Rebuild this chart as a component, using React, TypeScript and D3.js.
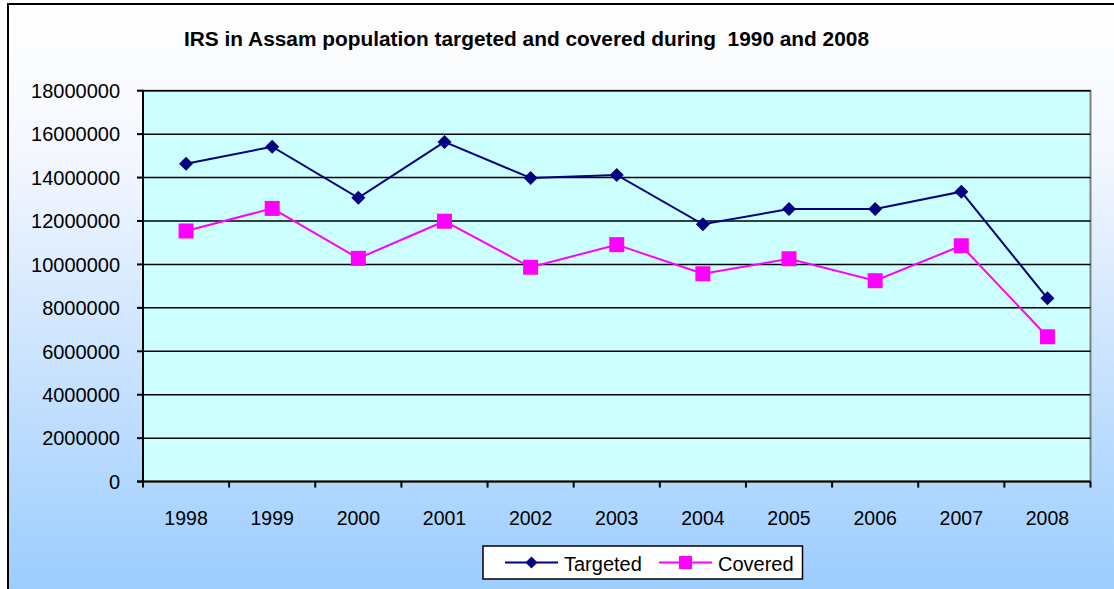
import React from 'react';
import * as d3 from 'd3';

const years = ['1998', '1999', '2000', '2001', '2002', '2003', '2004', '2005', '2006', '2007', '2008'];
const targeted = [14640000, 15420000, 13070000, 15640000, 13980000, 14120000, 11850000, 12550000, 12550000, 13350000, 8440000];
const covered = [11540000, 12580000, 10280000, 11990000, 9870000, 10910000, 9570000, 10260000, 9250000, 10860000, 6670000];
const yTicks = [0, 2000000, 4000000, 6000000, 8000000, 10000000, 12000000, 14000000, 16000000, 18000000];
const title = 'IRS in Assam population targeted and covered during  1990 and 2008';

const W = 1114, H = 589;
const plot = {left: 143, right: 1090.5, top: 90.7, bottom: 481.6};
const font = '"Liberation Sans", Arial, sans-serif';
const navy = '#000080';
const magenta = '#ff00ff';

const diamond = (cx: number, cy: number, r: number) =>
    `M${cx},${cy - r}L${cx + r},${cy}L${cx},${cy + r}L${cx - r},${cy}Z`;

const App = () => {
    const x = d3.scaleBand().domain(years).range([plot.left, plot.right]);
    const y = d3.scaleLinear().domain([0, 18000000]).range([plot.bottom, plot.top]);
    const cx = (d: string) => (x(d) as number) + x.bandwidth() / 2;

    const line = d3.line<number>()
        .x((_, i) => cx(years[i]))
        .y((d) => y(d));

    const boundaries = years.map((d) => x(d) as number).concat([plot.right]);

    return (
        <svg width={W} height={H} style={{position: 'absolute', left: 0, top: 0}}>
            <defs>
                <linearGradient id="bg" x1="0" y1="0" x2="0" y2="1">
                    <stop offset="0" stopColor="#ffffff"/>
                    <stop offset="0.25" stopColor="#f4f7fe"/>
                    <stop offset="1" stopColor="#99ccff"/>
                </linearGradient>
            </defs>
            <rect x={8} y={4} width={W + 10} height={H + 10} fill="url(#bg)" stroke="#000" strokeWidth={2}/>

            <text x={184} y={46} fontFamily={font} fontWeight="bold" fontSize={19.5}
                  textLength={685} lengthAdjust="spacingAndGlyphs"
                  style={{whiteSpace: 'pre'}} fill="#000">{title}</text>

            <rect x={plot.left} y={plot.top} width={plot.right - plot.left} height={plot.bottom - plot.top}
                  fill="#ccffff" stroke="#808080" strokeWidth={2}/>

            {yTicks.slice(1).map((t) => (
                <line key={t} x1={plot.left} x2={plot.right} y1={y(t)} y2={y(t)} stroke="#000" strokeWidth={1.5}/>
            ))}

            {/* y axis */}
            <line x1={plot.left} x2={plot.left} y1={plot.top} y2={plot.bottom} stroke="#000" strokeWidth={2}/>
            {yTicks.map((t) => (
                <g key={t}>
                    <line x1={plot.left - 6} x2={plot.left} y1={y(t)} y2={y(t)} stroke="#000" strokeWidth={2}/>
                    <text x={120} y={y(t)} dy="0.36em" textAnchor="end" fontFamily={font} fontSize={20}
                          fill="#000">{t}</text>
                </g>
            ))}

            {/* x axis */}
            <line x1={plot.left - 6} x2={plot.right} y1={plot.bottom} y2={plot.bottom} stroke="#000" strokeWidth={2}/>
            {boundaries.map((b, i) => (
                <line key={i} x1={b} x2={b} y1={plot.bottom} y2={plot.bottom + 6} stroke="#000" strokeWidth={2}/>
            ))}
            {years.map((d) => (
                <text key={d} x={cx(d)} y={525} textAnchor="middle" fontFamily={font} fontSize={19.5}
                      fill="#000">{d}</text>
            ))}

            <path d={line(targeted) || ''} fill="none" stroke={navy} strokeWidth={2}/>
            {targeted.map((v, i) => (
                <path key={i} d={diamond(cx(years[i]), y(v), 7)} fill={navy}/>
            ))}

            <path d={line(covered) || ''} fill="none" stroke={magenta} strokeWidth={2}/>
            {covered.map((v, i) => (
                <rect key={i} x={cx(years[i]) - 7.5} y={y(v) - 7.5} width={15} height={15} fill={magenta}/>
            ))}

            {/* legend */}
            <rect x={483} y={546} width={319.5} height={33} fill="#fff" stroke="#000" strokeWidth={1.5}/>
            <line x1={505} x2={558} y1={562.5} y2={562.5} stroke={navy} strokeWidth={2}/>
            <path d={diamond(531.5, 562.5, 6)} fill={navy}/>
            <text x={564} y={570.5} fontFamily={font} fontSize={20} fill="#000">Targeted</text>
            <line x1={659} x2={712} y1={562.5} y2={562.5} stroke={magenta} strokeWidth={2}/>
            <rect x={679} y={556} width={13} height={13} fill={magenta}/>
            <text x={718} y={570.5} fontFamily={font} fontSize={20} fill="#000">Covered</text>
        </svg>
    );
};

export default App;
